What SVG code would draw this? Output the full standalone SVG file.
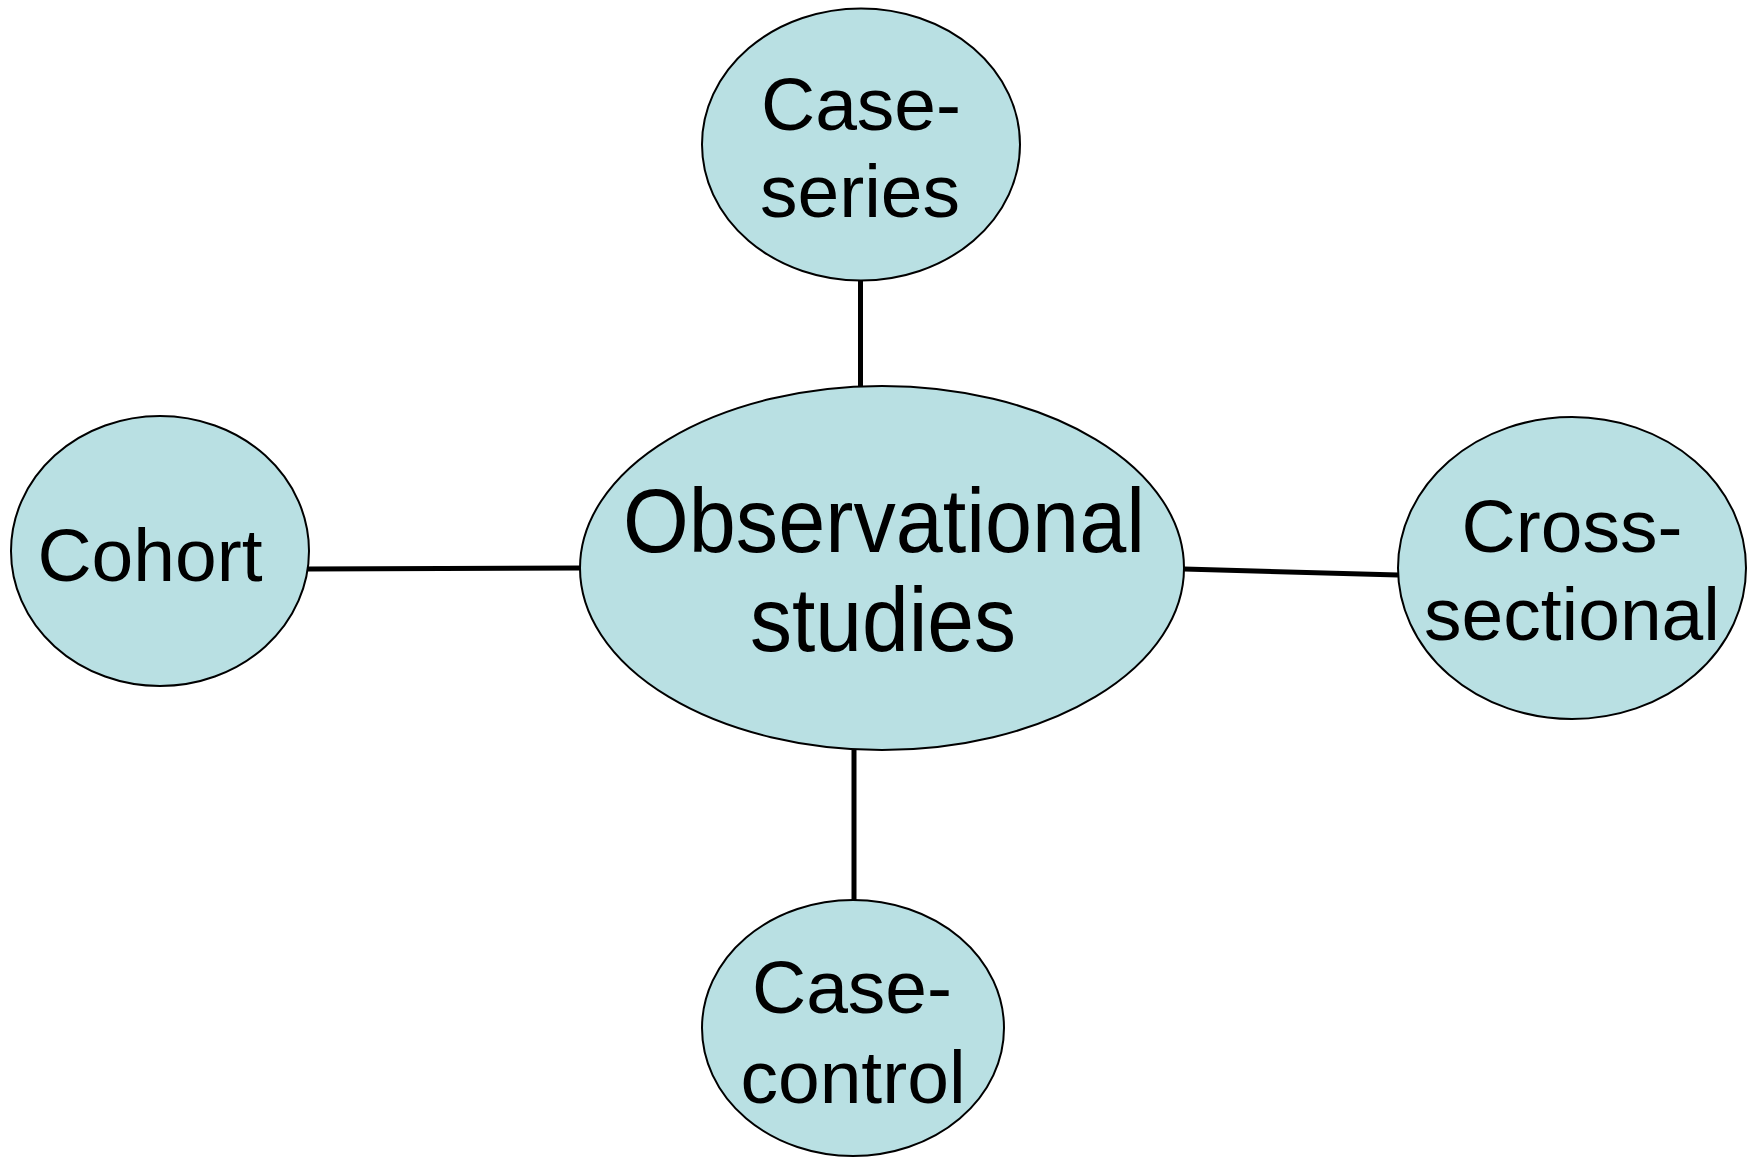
<svg xmlns="http://www.w3.org/2000/svg" width="1759" height="1158" viewBox="0 0 1759 1158">
<style>
.node ellipse{fill:#B9E0E3;stroke:#000;stroke-width:2}
.edge{stroke:#000;stroke-width:5;fill:none}
text{font-family:"Liberation Sans",Arial,sans-serif;fill:#000;text-anchor:middle}
.s{font-size:75px}
.b{font-size:91px}
</style>
<rect width="1759" height="1158" fill="#fff"/>
<g id="connectors">
<line class="edge" x1="860.5" y1="280" x2="860.5" y2="387"/>
<line class="edge" x1="308" y1="569" x2="581" y2="568"/>
<line class="edge" x1="1184" y1="569" x2="1398" y2="575"/>
<line class="edge" x1="854" y1="749" x2="854" y2="900"/>
</g>
<g id="node-observational" class="node">
<ellipse cx="882" cy="568" rx="302" ry="182"/>
<text class="b" x="884" y="552" textLength="522" lengthAdjust="spacingAndGlyphs">Observational</text>
<text class="b" x="883" y="651" textLength="266" lengthAdjust="spacingAndGlyphs">studies</text>
</g>
<g id="node-case-series" class="node">
<ellipse cx="861" cy="144.5" rx="159" ry="136"/>
<text class="s" x="861" y="130">Case-</text>
<text class="s" x="860" y="217">series</text>
</g>
<g id="node-cohort" class="node">
<ellipse cx="160" cy="551" rx="149" ry="135"/>
<text class="s" x="150" y="581">Cohort</text>
</g>
<g id="node-cross-sectional" class="node">
<ellipse cx="1572" cy="568" rx="174" ry="151"/>
<text class="s" x="1572" y="552">Cross-</text>
<text class="s" x="1572" y="640">sectional</text>
</g>
<g id="node-case-control" class="node">
<ellipse cx="853" cy="1028" rx="151" ry="128"/>
<text class="s" x="852" y="1013">Case-</text>
<text class="s" x="853" y="1103">control</text>
</g>
</svg>
